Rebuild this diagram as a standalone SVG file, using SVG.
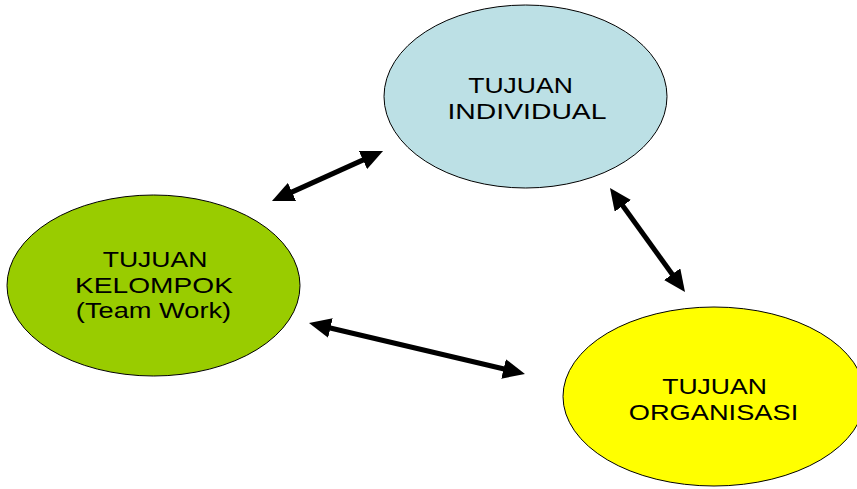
<svg xmlns="http://www.w3.org/2000/svg" width="857" height="489" viewBox="0 0 857 489">
<style>
.n{stroke:#000;stroke-width:1}
.t{font-family:"Liberation Sans",Arial,sans-serif;font-size:22.5px;fill:#000;text-anchor:middle}
.c{stroke:#000;stroke-width:5;fill:none;marker-start:url(#ah);marker-end:url(#ah)}
</style>
<defs>
<marker id="ah" viewBox="0 0 22 20" markerWidth="22" markerHeight="20" refX="10" refY="10" markerUnits="userSpaceOnUse" orient="auto-start-reverse">
<path d="M0,0 L22,10 L0,20 Z" fill="#000"/>
</marker>
</defs>
<rect width="857" height="489" fill="#fff"/>
<g id="individual">
<ellipse class="n" cx="525.5" cy="96.5" rx="141.5" ry="91.5" fill="#BCE0E5"/>
<text class="t" transform="translate(520.5,93) scale(1.18,1)">TUJUAN</text>
<text class="t" transform="translate(527,119) scale(1.26,1)">INDIVIDUAL</text>
</g>
<g id="kelompok">
<ellipse class="n" cx="153.5" cy="285.5" rx="146.5" ry="90.5" fill="#99CC00"/>
<text class="t" transform="translate(155,267) scale(1.18,1)">TUJUAN</text>
<text class="t" transform="translate(154,293) scale(1.25,1)">KELOMPOK</text>
<text class="t" transform="translate(153.5,318) scale(1.21,1)">(Team Work)</text>
</g>
<g id="organisasi">
<ellipse class="n" cx="714" cy="396.5" rx="151" ry="89.5" fill="#FFFF00"/>
<text class="t" transform="translate(714.5,394) scale(1.18,1)">TUJUAN</text>
<text class="t" transform="translate(713.5,420) scale(1.21,1)">ORGANISASI</text>
</g>
<g id="connectors">
<line class="c" x1="282.9" y1="196.1" x2="372.1" y2="155.9"/>
<line class="c" x1="617" y1="197.7" x2="678" y2="282.3"/>
<line class="c" x1="320.7" y1="325.8" x2="513.3" y2="371.2"/>
</g>
</svg>
